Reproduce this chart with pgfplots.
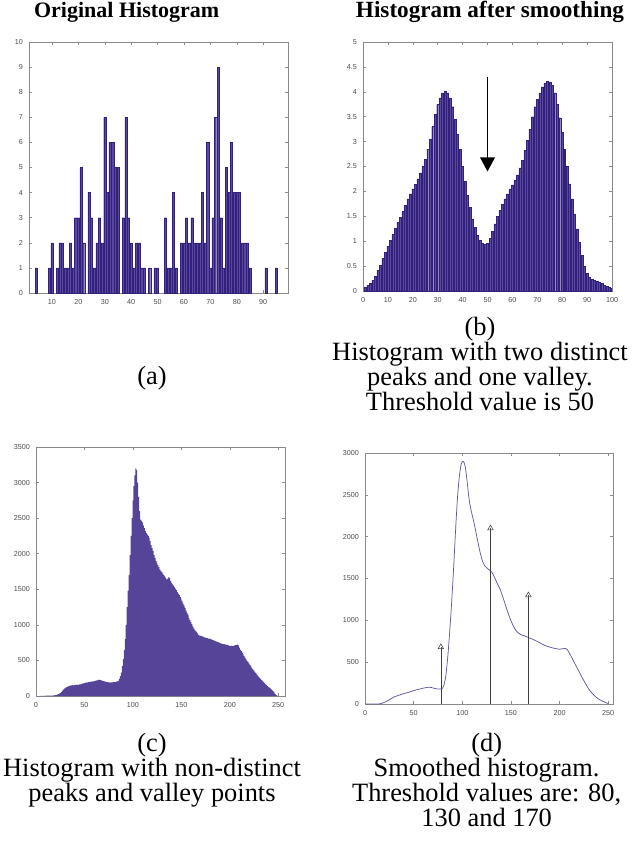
\documentclass[border=0pt]{standalone}
\usepackage{fontspec}
\setmainfont{Liberation Serif}
\newfontfamily\ticksf{Liberation Sans}
\usepackage{pgfplots}
\pgfplotsset{compat=1.18}
\usetikzlibrary{arrows.meta}

\definecolor{barfill}{HTML}{5A48A0}
\definecolor{baredge}{HTML}{32207A}
\definecolor{boxgray}{HTML}{8A8A8A}
\definecolor{curveblue}{HTML}{5A5A9C}

\pgfplotsset{
  matlab/.style={
    scale only axis, anchor=south west,
    axis line style={boxgray, line width=0.5pt},
    tick pos=both, tick align=inside,
    major tick length=2.5pt,
    every tick/.style={boxgray, line width=0.4pt},
    tick label style={font=\ticksf\fontsize{5.4}{6}\selectfont, text=black!70},
    /pgf/number format/assume math mode=true,
    /pgf/number format/1000 sep={},
    scaled ticks=false,
    xticklabel style={yshift=-1pt},
    yticklabel style={xshift=-1pt},
  },
  hbar/.style={ybar, bar width=0.8, fill=barfill, draw=baredge, line width=0.3pt},
}

\begin{document}
\begin{tikzpicture}
\path[use as bounding box] (0,0) rectangle (476.25pt,-633.75pt);

% (a) original histogram
\begin{axis}[matlab, at={(21.75pt,-219.75pt)}, width=194.25pt, height=188.25pt,
  xmin=1.3, xmax=99.4, ymin=0, ymax=10,
  xtick={10,20,...,90}, ytick={0,1,...,10}]
\addplot[hbar] coordinates {
 (4,1) (9,1) (10,2) (12,1) (13,2) (14,2) (15,1) (16,1) (17,2) (18,1) (19,3) (20,3) (21,5) (22,2)
 (24,4) (25,3) (26,1) (27,2) (28,3) (29,2) (30,7) (31,4) (32,6) (33,6) (34,5) (35,5)
 (37,3) (38,7) (39,3) (40,2) (41,1) (42,2) (43,2) (44,1) (45,1) (47,1) (49,1) (50,1)
 (53,3) (54,1) (55,1) (56,4) (57,1) (59,2) (60,2) (61,3) (62,2) (63,3) (64,2) (65,2) (66,2)
 (67,4) (68,2) (69,6) (70,1) (71,3) (72,7) (73,9) (74,3) (75,1) (76,5) (77,4) (78,6) (79,4)
 (80,4) (81,4) (82,2) (83,2) (84,2) (85,1) (91,1) (95,1)};
\end{axis}

% (b) smoothed histogram
\begin{axis}[matlab, at={(272.25pt,-218.25pt)}, width=186.75pt, height=186.75pt,
  xmin=0, xmax=100, ymin=0, ymax=5,
  xtick={0,10,...,100}, ytick={0,0.5,...,5},
  yticklabel style={/pgf/number format/fixed}]
\addplot[hbar] coordinates {
 (1,0.08) (2,0.12) (3,0.16) (4,0.22) (5,0.30) (6,0.42) (7,0.52) (8,0.65) (9,0.78) (10,0.90)
 (11,1.02) (12,1.14) (13,1.26) (14,1.38) (15,1.48) (16,1.60) (17,1.72) (18,1.85) (19,1.95) (20,2.05)
 (21,2.14) (22,2.25) (23,2.37) (24,2.50) (25,2.65) (26,2.85) (27,3.05) (28,3.30) (29,3.55) (30,3.75)
 (31,3.88) (32,3.98) (33,4.02) (34,3.98) (35,3.88) (36,3.70) (37,3.45) (38,3.15) (39,2.85) (40,2.50)
 (41,2.20) (42,1.92) (43,1.68) (44,1.45) (45,1.28) (46,1.12) (47,1.02) (48,0.96) (49,0.94) (50,0.96)
 (51,1.06) (52,1.20) (53,1.35) (54,1.50) (55,1.62) (56,1.74) (57,1.85) (58,1.95) (59,2.05) (60,2.13)
 (61,2.22) (62,2.33) (63,2.47) (64,2.63) (65,2.82) (66,3.02) (67,3.25) (68,3.50) (69,3.70) (70,3.85)
 (71,3.98) (72,4.10) (73,4.17) (74,4.21) (75,4.20) (76,4.13) (77,3.98) (78,3.75) (79,3.48) (80,3.18)
 (81,2.85) (82,2.50) (83,2.15) (84,1.85) (85,1.55) (86,1.25) (87,0.98) (88,0.72) (89,0.50) (90,0.36)
 (91,0.28) (92,0.24) (93,0.21) (94,0.19) (95,0.17) (96,0.15) (97,0.12) (98,0.10) (99,0.07) (100,0.05)};
\draw[black, line width=1pt, -{Triangle[width=11pt,length=10.5pt]}] (axis cs:50,4.29) -- (axis cs:50,2.4);
\end{axis}

% (c) non-distinct histogram
\begin{axis}[matlab, at={(27pt,-522pt)}, width=186.75pt, height=186.75pt,
  xmin=0, xmax=257, ymin=0, ymax=3500,
  xtick={0,50,...,250}, ytick={0,500,...,3500}]
\addplot[ybar, bar width=0.8, fill=barfill!95!black, draw=none] coordinates {
 (0,0) (1,0) (2,0) (3,0) (4,1) (5,1) (6,2) (7,2) (8,3) (9,3)
 (10,4) (11,4) (12,5) (13,5) (14,5) (15,6) (16,6) (17,7) (18,8) (19,10)
 (20,12) (21,15) (22,20) (23,26) (24,33) (25,40) (26,55) (27,70) (28,85) (29,100)
 (30,112) (31,120) (32,128) (33,135) (34,140) (35,145) (36,148) (37,150) (38,152) (39,150)
 (40,155) (41,158) (42,156) (43,160) (44,158) (45,162) (46,165) (47,170) (48,175) (49,178)
 (50,182) (51,186) (52,190) (53,188) (54,195) (55,198) (56,200) (57,202) (58,205) (59,203)
 (60,208) (61,212) (62,215) (63,220) (64,225) (65,230) (66,228) (67,225) (68,218) (69,212)
 (70,208) (71,205) (72,200) (73,198) (74,195) (75,192) (76,190) (77,188) (78,190) (79,192)
 (80,195) (81,198) (82,200) (83,202) (84,205) (85,210) (86,240) (87,280) (88,330) (89,420)
 (90,520) (91,650) (92,800) (93,1000) (94,1250) (95,1480) (96,1700) (97,1980) (98,2250) (99,2500)
 (100,2750) (101,2950) (102,3100) (103,3200) (104,3180) (105,3000) (106,2800) (107,2600) (108,2480) (109,2460)
 (110,2440) (111,2400) (112,2360) (113,2320) (114,2290) (115,2270) (116,2250) (117,2220) (118,2180) (119,2120)
 (120,2080) (121,2040) (122,1980) (123,1940) (124,1900) (125,1870) (126,1840) (127,1810) (128,1780) (129,1760)
 (130,1740) (131,1720) (132,1700) (133,1680) (134,1660) (135,1640) (136,1650) (137,1670) (138,1660) (139,1620)
 (140,1590) (141,1570) (142,1550) (143,1530) (144,1510) (145,1490) (146,1460) (147,1440) (148,1420) (149,1390)
 (150,1360) (151,1330) (152,1300) (153,1270) (154,1240) (155,1200) (156,1170) (157,1140) (158,1100) (159,1070)
 (160,1040) (161,1010) (162,980) (163,950) (164,930) (165,910) (166,900) (167,880) (168,860) (169,850)
 (170,845) (171,840) (172,835) (173,830) (174,825) (175,820) (176,815) (177,812) (178,808) (179,805)
 (180,800) (181,795) (182,790) (183,785) (184,780) (185,775) (186,768) (187,762) (188,756) (189,750)
 (190,745) (191,740) (192,735) (193,730) (194,728) (195,725) (196,722) (197,718) (198,715) (199,712)
 (200,705) (201,702) (202,708) (203,700) (204,705) (205,712) (206,715) (207,718) (208,722) (209,710)
 (210,680) (211,650) (212,630) (213,610) (214,585) (215,560) (216,540) (217,515) (218,495) (219,475)
 (220,455) (221,435) (222,415) (223,395) (224,375) (225,360) (226,340) (227,322) (228,305) (229,288)
 (230,270) (231,255) (232,240) (233,225) (234,210) (235,195) (236,180) (237,165) (238,155) (239,140)
 (240,128) (241,118) (242,108) (243,95) (244,80) (245,65) (246,50) (247,30) (248,15) (249,5) (250,2)};
\end{axis}

% (d) smoothed histogram with thresholds
\begin{axis}[matlab, at={(273.75pt,-528pt)}, width=186pt, height=188.25pt,
  xmin=0, xmax=255, ymin=0, ymax=3000,
  xtick={0,50,...,250}, ytick={0,500,...,3000}]
\addplot[curveblue, line width=0.55pt, smooth] coordinates {
 (0,0) (10,0) (15,2) (20,20) (25,50) (30,85) (35,105) (40,125) (45,140) (50,160) (55,175)
 (60,190) (65,200) (68,198) (72,185) (76,178) (79,182) (81,220) (83,330) (85,550) (87,850)
 (89,1200) (91,1600) (93,2050) (95,2450) (97,2720) (99,2870) (101,2900) (103,2840) (105,2660)
 (107,2450) (109,2320) (112,2170) (115,2000) (118,1830) (121,1700) (124,1640) (127,1610)
 (130,1580) (133,1520) (136,1440) (139,1370) (142,1270) (145,1160) (148,1060) (151,970)
 (154,900) (157,855) (160,830) (165,810) (170,785) (175,760) (180,730) (185,700) (190,680)
 (195,665) (200,655) (203,660) (206,665) (208,650) (211,590) (215,500) (220,390) (225,280)
 (230,180) (235,110) (240,60) (245,30) (250,5)};
\addplot[ycomb, black!75, line width=0.5pt, mark=triangle, mark size=2.4pt,
  mark options={black!75, fill=white, line width=0.4pt}] coordinates {(78,680) (129,2100) (168,1300)};
\end{axis}

% titles and captions
\node[font=\bfseries\fontsize{16.5}{18}\selectfont] at (95pt,-9pt) {Original Histogram};
\node[font=\bfseries\fontsize{17.4}{18}\selectfont] at (367.5pt,-9pt) {Histogram after smoothing};

\node[font=\fontsize{19.8}{18.75}\selectfont] at (114pt,-283.5pt) {(a)};
\node[font=\fontsize{19.8}{18.75}\selectfont, align=center, anchor=north] at (360pt,-234pt)
  {(b)\\Histogram with two distinct\\peaks and one valley.\\Threshold value is 50};
\node[font=\fontsize{19.8}{18.75}\selectfont, align=center, anchor=north] at (114pt,-546pt)
  {(c)\\Histogram with non-distinct\\peaks and valley points};
\node[font=\fontsize{19.8}{18.75}\selectfont, align=center, anchor=north] at (365pt,-546pt)
  {(d)\\Smoothed histogram.\\Threshold values are: 80,\\130 and 170};
\end{tikzpicture}
\end{document}
